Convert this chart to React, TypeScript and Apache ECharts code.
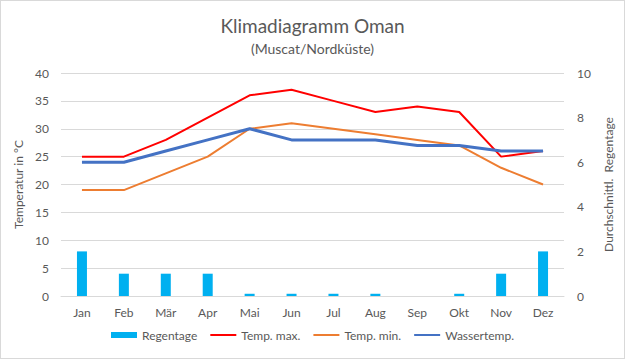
import React, { useEffect, useRef } from "react";
import * as echarts from "echarts";

const months = ["Jan", "Feb", "Mär", "Apr", "Mai", "Jun", "Jul", "Aug", "Sep", "Okt", "Nov", "Dez"];
const regentage = [2, 1, 1, 1, 0.1, 0.1, 0.1, 0.1, 0, 0.1, 1, 2];
const tempMax = [25, 25, 28, 32, 36, 37, 35, 33, 34, 33, 25, 26];
const tempMin = [19, 19, 22, 25, 30, 31, 30, 29, 28, 27, 23, 20];
const wasserTemp = [24, 24, 26, 28, 30, 28, 28, 28, 27, 27, 26, 26];

const FONT = "Lato";
const GREY = "#595959";
const LINE_ICON = "path://M0,0H26V2H0Z";

export default function App() {
  const ref = useRef<HTMLDivElement>(null);
  useEffect(() => {
    const chart = echarts.init(ref.current!, null, { renderer: "svg" });
    chart.setOption({
      animation: false,
      backgroundColor: "#ffffff",
      textStyle: { fontFamily: FONT },
      title: [
        {
          text: "Klimadiagramm Oman",
          left: "center",
          top: 10,
          textStyle: { fontFamily: FONT, fontSize: 19, fontWeight: "normal", color: GREY },
        },
        {
          text: "(Muscat/Nordküste)",
          left: "center",
          top: 35,
          textStyle: { fontFamily: FONT, fontSize: 14, fontWeight: "normal", color: GREY },
        },
      ],
      legend: {
        bottom: 12,
        left: "center",
        itemWidth: 26,
        itemHeight: 6,
        itemGap: 13,
        textStyle: { fontFamily: FONT, fontSize: 12, color: GREY },
        data: [
          { name: "Regentage", icon: "rect" },
          { name: "Temp. max.", icon: LINE_ICON },
          { name: "Temp. min.", icon: LINE_ICON },
          { name: "Wassertemp.", icon: LINE_ICON },
        ],
      },
      grid: { left: 60, right: 60, top: 72, bottom: 62, containLabel: false },
      xAxis: {
        type: "category",
        data: months,
        axisTick: { show: false },
        axisLine: { lineStyle: { color: "#d9d9d9" } },
        axisLabel: { color: GREY, fontSize: 12, fontFamily: FONT, margin: 10 },
      },
      yAxis: [
        {
          type: "value",
          min: 0,
          max: 40,
          interval: 5,
          name: "Temperatur in °C",
          nameLocation: "middle",
          nameGap: 37,
          nameRotate: 90,
          nameTextStyle: { color: GREY, fontSize: 12, fontFamily: FONT },
          axisLabel: { color: GREY, fontSize: 12, fontFamily: FONT, margin: 12 },
          axisLine: { show: false },
          axisTick: { show: false },
          splitLine: { lineStyle: { color: "#d9d9d9" } },
        },
        {
          type: "value",
          min: 0,
          max: 10,
          interval: 2,
          name: "Durchschnittl.  Regentage",
          nameLocation: "middle",
          nameGap: 38,
          nameRotate: 90,
          nameTextStyle: { color: GREY, fontSize: 12, fontFamily: FONT },
          axisLabel: { color: GREY, fontSize: 12, fontFamily: FONT, margin: 13 },
          axisLine: { show: false },
          axisTick: { show: false },
          splitLine: { show: false },
        },
      ],
      series: [
        {
          name: "Regentage",
          type: "bar",
          yAxisIndex: 1,
          data: regentage,
          barWidth: 10,
          itemStyle: { color: "#00b0f0" },
        },
        {
          name: "Temp. max.",
          type: "line",
          data: tempMax,
          symbol: "none",
          lineStyle: { color: "#ff0000", width: 2 },
          itemStyle: { color: "#ff0000" },
        },
        {
          name: "Temp. min.",
          type: "line",
          data: tempMin,
          symbol: "none",
          lineStyle: { color: "#ed7d31", width: 2 },
          itemStyle: { color: "#ed7d31" },
        },
        {
          name: "Wassertemp.",
          type: "line",
          data: wasserTemp,
          symbol: "none",
          lineStyle: { color: "#4472c4", width: 3 },
          itemStyle: { color: "#4472c4" },
        },
      ],
    });
    return () => chart.dispose();
  }, []);
  return (
    <div
      style={{
        position: "fixed",
        left: 0,
        top: 0,
        width: 625,
        height: 359,
        boxSizing: "border-box",
        border: "1px solid #d9d9d9",
        background: "#fff",
      }}
    >
      <div ref={ref} style={{ width: 623, height: 357 }} />
    </div>
  );
}
